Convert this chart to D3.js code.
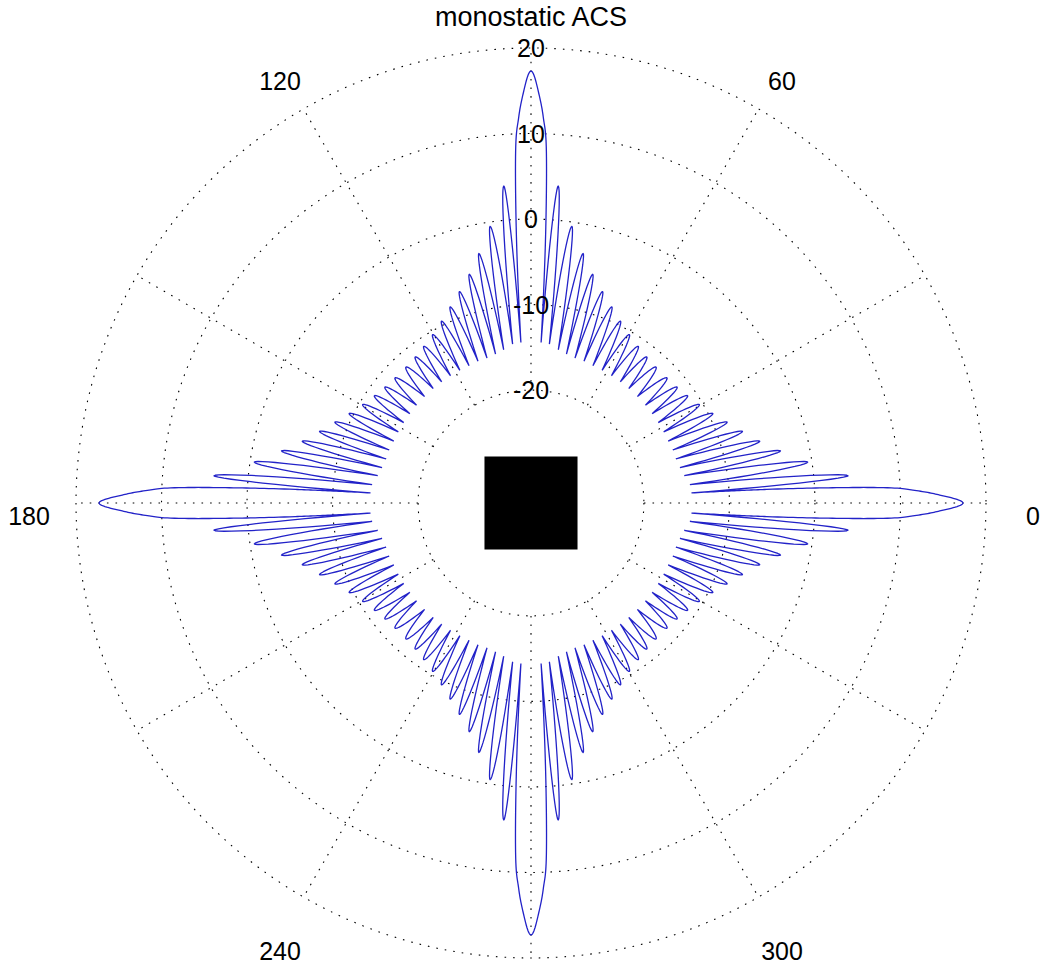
<!DOCTYPE html>
<html>
<head>
<meta charset="utf-8">
<script src="https://cdn.jsdelivr.net/npm/d3@7/dist/d3.min.js"></script>
<style>
  body { margin: 0; background: #fff; }
  text { font-family: Arial, "Liberation Sans", sans-serif; fill: #000; }
</style>
</head>
<body>
<svg id="chart" width="1048" height="965"></svg>
<script>
// one octant (0..45 deg) of the monostatic ACS (deg, dB)
// the other octants are mirror images (square body)
const mainLobeAngles = [0, 1.12, 1.83, 2.5, 2.9, 3.3, 3.45];
const mainLobeLevels = [17.3, 14.6, 11.9, 8.0, 2.1, -5.6, -9.4];
const peakAngles = [4.9, 8.4, 11.8, 15.1, 18.7, 22.4, 26.2, 30.3, 34.4, 38.4, 42.6];
const peakLevels = [4.0, -0.5, -3.4, -5.5, -7.1, -8.4, -9.5, -10.4, -11.0, -11.4, -11.6];
const nullAngles = [3.6, 6.6, 10.1, 13.4, 16.9, 20.5, 24.3, 28.2, 32.3, 36.4, 40.5, 45];
const nullLevels = [-14.4, -14.5, -15.0, -15.3, -15.5, -15.5, -15.6, -15.6, -15.6, -15.6, -15.6, -15.6];

const ringTicks = [-20, -10, 0, 10, 20];
const spokeAngles = [0, 30, 60, 90, 120, 150, 180, 210, 240, 270, 300, 330];
const angleLabels = [0, 60, 120, 180, 240, 300];
const bodyX = [-5.44, 5.44, 5.44, -5.44];   // square scatterer, plot units
const bodyY = [-5.44, -5.44, 5.44, 5.44];

const cx = 531, cy = 503, R = 455;
const rMin = -33.2, rMax = 20;
const deg = Math.PI / 180;

const r = d3.scaleLinear().domain([rMin, rMax]).range([0, R]).clamp(true);
const len = d3.scaleLinear().domain([0, rMax - rMin]).range([0, R]);

const svg = d3.select('#chart');
const g = svg.append('g').attr('transform', `translate(${cx},${cy})`);

const dots = '1.6,7';

// rings
g.append('g')
  .selectAll('circle')
  .data(ringTicks)
  .join('circle')
  .attr('r', d => r(d))
  .attr('fill', 'none')
  .attr('stroke', '#000')
  .attr('stroke-width', 1.1)
  .attr('stroke-dasharray', dots);

// spokes, from the innermost ring out
g.append('g')
  .selectAll('line')
  .data(spokeAngles)
  .join('line')
  .attr('x1', d => r(ringTicks[0]) * Math.cos(d * deg))
  .attr('y1', d => -r(ringTicks[0]) * Math.sin(d * deg))
  .attr('x2', d => r(rMax) * Math.cos(d * deg))
  .attr('y2', d => -r(rMax) * Math.sin(d * deg))
  .attr('stroke', '#000')
  .attr('stroke-width', 1.1)
  .attr('stroke-dasharray', dots);

// octant points, tagged so we can split the curve into lobes at the nulls
const octant = d3.zip(mainLobeAngles, mainLobeLevels).map(d => [d[0], d[1], 'm'])
  .concat(d3.zip(peakAngles, peakLevels).map(d => [d[0], d[1], 'p']))
  .concat(d3.zip(nullAngles, nullLevels).map(d => [d[0], d[1], 'n']));

// mirror the octant into the whole circle
const all = new Map();
const add = (a, v, t) => {
  a = ((a % 360) + 360) % 360;
  all.set(a.toFixed(3), [a, v, t]);
};
for (let q = 0; q < 4; q++) {
  octant.forEach(([a, v, t]) => {
    add(q * 90 + a, v, t);
    add(q * 90 - a, v, t);
    add(q * 90 + 90 - a, v, t);
  });
}
let pts = Array.from(all.values()).sort((a, b) => a[0] - b[0]);

// start at the null just below 0 deg so the main lobe is not cut
const firstNull = pts.filter(p => p[2] === 'n').pop();
pts = pts.map(p => p[0] >= firstNull[0] ? [p[0] - 360, p[1], p[2]] : p)
  .sort((a, b) => a[0] - b[0]);
pts.push([firstNull[0], firstNull[1], 'n']);

// split into lobes (null .. null)
const lobes = [];
let cur = [pts[0]];
for (let i = 1; i < pts.length; i++) {
  cur.push(pts[i]);
  if (pts[i][2] === 'n') { lobes.push(cur); cur = [pts[i]]; }
}

// context that maps (angle deg, level dB) path commands onto the polar plane
function polarContext(path, steps) {
  let px = 0, py = 0;
  const P = (a, v) => [r(v) * Math.cos(a * deg), -r(v) * Math.sin(a * deg)];
  return {
    moveTo(x, y) { px = x; py = y; path.moveTo(...P(x, y)); },
    lineTo(x, y) {
      for (let i = 1; i <= steps; i++) {
        const t = i / steps;
        path.lineTo(...P(px + (x - px) * t, py + (y - py) * t));
      }
      px = x; py = y;
    },
    bezierCurveTo(x1, y1, x2, y2, x, y) {
      for (let i = 1; i <= steps; i++) {
        const t = i / steps, u = 1 - t;
        const bx = u * u * u * px + 3 * u * u * t * x1 + 3 * u * t * t * x2 + t * t * t * x;
        const by = u * u * u * py + 3 * u * u * t * y1 + 3 * u * t * t * y2 + t * t * t * y;
        path.lineTo(...P(bx, by));
      }
      px = x; py = y;
    },
    closePath() { path.closePath(); }
  };
}

const acsPath = d3.path();
const lobeLine = d3.line()
  .x(d => d[0])
  .y(d => d[1])
  .curve(d3.curveMonotoneX)
  .context(polarContext(acsPath, 14));
lobes.forEach(l => lobeLine(l));

g.append('path')
  .attr('d', acsPath.toString())
  .attr('fill', 'none')
  .attr('stroke', '#2222c8')
  .attr('stroke-width', 1.3)
  .attr('stroke-linejoin', 'round');

// square body
const body = d3.line().x(d => len(d[0])).y(d => -len(d[1])).curve(d3.curveLinearClosed);
g.append('path')
  .datum(d3.zip(bodyX, bodyY))
  .attr('d', body)
  .attr('fill', '#000');

// radial tick labels along 90 deg
g.append('g')
  .selectAll('text')
  .data(ringTicks)
  .join('text')
  .attr('x', 0)
  .attr('y', d => -r(d))
  .attr('text-anchor', 'middle')
  .attr('dominant-baseline', 'central')
  .attr('font-size', 25)
  .text(d => d);

// angle labels
const labelR = 502;
g.append('g')
  .selectAll('text')
  .data(angleLabels)
  .join('text')
  .attr('x', d => labelR * Math.cos(d * deg))
  .attr('y', d => -labelR * Math.sin(d * deg) + 13)
  .attr('text-anchor', 'middle')
  .attr('dominant-baseline', 'central')
  .attr('font-size', 25)
  .text(d => d);

svg.append('text')
  .attr('x', cx)
  .attr('y', 26)
  .attr('text-anchor', 'middle')
  .attr('font-size', 27)
  .text('monostatic ACS');
</script>
</body>
</html>
